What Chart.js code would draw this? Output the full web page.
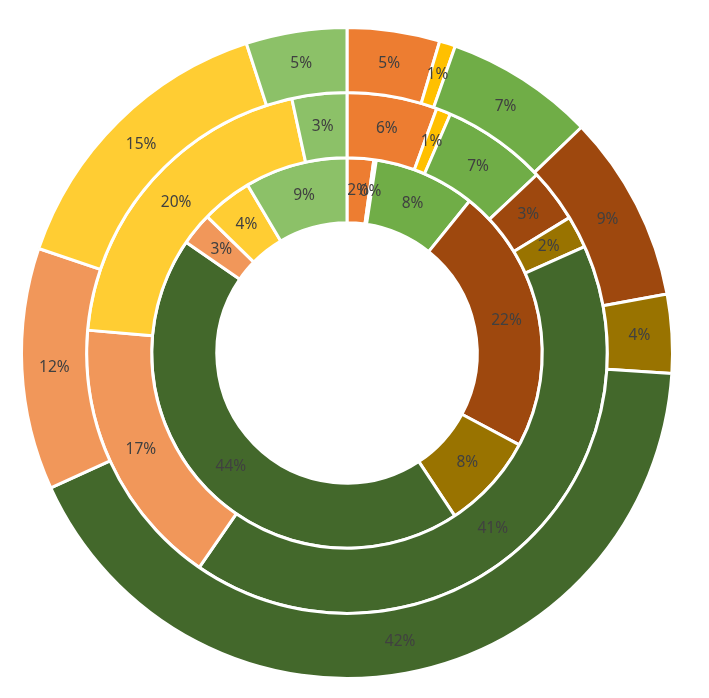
<!DOCTYPE html>
<html>
<head>
<meta charset="utf-8">
<script src="https://cdn.jsdelivr.net/npm/chart.js@4"></script>
<style>
  html, body { margin: 0; padding: 0; background: #fff; }
  #wrap { width: 709px; height: 698px; }
</style>
</head>
<body>
<div id="wrap"><canvas id="chart"></canvas></div>
<script>
// nine categories, same order in every ring, clockwise from 12 o'clock
const categories = ['A', 'B', 'C', 'D', 'E', 'F', 'G', 'H', 'I']
const colors = ['#ED7D31', '#FFC000', '#70AD47', '#9E480E', '#997300', '#43682B', '#F1975A', '#FFCD33', '#8CC168']

// outer -> inner
const outerRing = [4.6, 0.8, 7.4, 9.3, 3.9, 42.2, 12.0, 14.8, 5.0]
const middleRing = [5.6, 0.9, 6.5, 3.3, 2.0, 41.3, 16.8, 20.2, 3.4]
const innerRing = [2.2, 0.2, 8.4, 22.0, 7.9, 43.9, 2.7, 4.2, 8.5]

// draws the percentage in the middle of every slice
const sliceLabels = {
    id: 'sliceLabels',
    afterDatasetsDraw(chart) {
        const ctx = chart.ctx
        ctx.save()
        ctx.font = '15.5px "Noto Sans"'
        ctx.fillStyle = '#404040'
        ctx.textAlign = 'center'
        ctx.textBaseline = 'middle'
        chart.data.datasets.forEach((ds, i) => {
            const meta = chart.getDatasetMeta(i)
            const total = ds.data.reduce((a, b) => a + b, 0)
            meta.data.forEach((arc, j) => {
                const p = arc.getProps(['x', 'y', 'startAngle', 'endAngle', 'innerRadius', 'outerRadius'], true)
                const a = (p.startAngle + p.endAngle) / 2
                const r = (p.innerRadius + p.outerRadius) / 2
                const txt = Math.round(ds.data[j] / total * 100) + '%'
                ctx.fillText(txt, p.x + Math.cos(a) * r, p.y + Math.sin(a) * r)
            })
        })
        ctx.restore()
    }
}

const ctx = document.getElementById('chart').getContext('2d')

const chart = new Chart(ctx, {
    type: 'doughnut',
    data: {
        labels: categories,
        datasets: [
            { data: outerRing, backgroundColor: colors, borderColor: '#fff', borderWidth: 3 },
            { data: middleRing, backgroundColor: colors, borderColor: '#fff', borderWidth: 3 },
            { data: innerRing, backgroundColor: colors, borderColor: '#fff', borderWidth: 3 }
        ]
    },
    options: {
        responsive: true,
        maintainAspectRatio: false,
        animation: false,
        cutout: '40%',
        layout: {
            padding: { top: 26, bottom: 18, left: 0, right: 15 }
        },
        plugins: {
            legend: { display: false },
            tooltip: { enabled: false }
        }
    },
    plugins: [sliceLabels]
})
</script>
</body>
</html>
